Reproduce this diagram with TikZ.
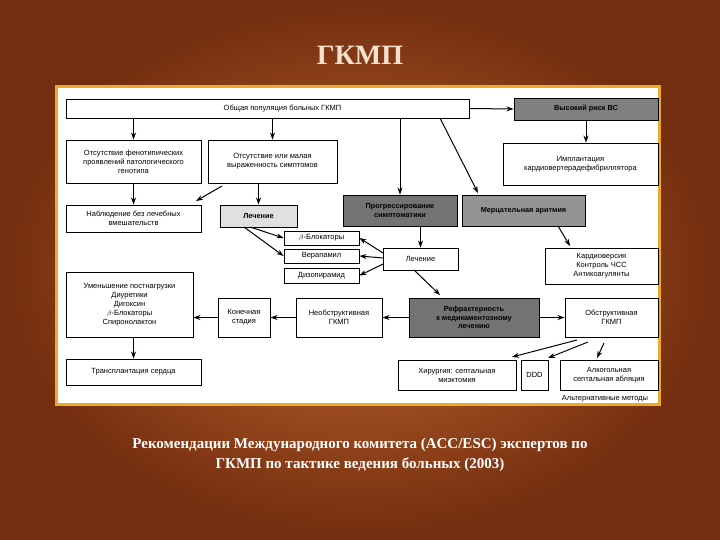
\documentclass[tikz,border=0pt]{standalone}
\usepackage{fontspec}
\setmainfont{Liberation Serif}
\newfontfamily\boxfont{Liberation Sans}
\usetikzlibrary{arrows.meta}
\definecolor{bgin}{RGB}{195,105,45}
\definecolor{bgout}{RGB}{115,45,15}
\definecolor{frame}{RGB}{235,170,40}
\definecolor{titlec}{RGB}{245,225,205}
\tikzset{
 box/.style={draw=black, line width=0.9pt, fill=white, align=center, inner sep=1pt,
   font=\boxfont\fontsize{7.5}{9}\selectfont},
 gbox/.style={box, fill=black!45, font=\boxfont\bfseries\fontsize{7.3}{8.8}\selectfont},
 arr/.style={-{Stealth[length=7pt,width=5pt]}, line width=1pt}
}
\newcommand{\bx}[7][box]{\node[#1, minimum width=#4-#2, minimum height=#5-#3] (#6) at ({(#2+#4)/2},{(#3+#5)/2}) {#7};}
\begin{document}
\begin{tikzpicture}[x=1pt,y=-1pt]
\useasboundingbox (0,0) rectangle (720,540);
\shade[inner color=bgin, outer color=bgout] (0,0) rectangle (720,540);
\node[font=\bfseries\fontsize{28}{30}\selectfont, text=titlec] (title) at (360,55) {ГКМП};
\draw[frame, line width=3pt, fill=white] (56.5,86.5) rectangle (659.5,404.5);
\bx{66}{99}{469}{118}{top}{\hspace*{4em}Общая популяция больных ГКМП}
\bx[gbox, fill=black!50]{514}{98}{658}{120}{risk}{Высокий риск ВС}
\bx{66}{140}{201}{183}{nofen}{Отсутствие фенотипических\\проявлений патологического\\генотипа}
\bx{208}{140}{337}{183}{nosym}{Отсутствие или малая\\выраженность симптомов}
\bx{503}{143}{658}{185}{impl}{Имплантация\\кардиовертерадефибриллятора}
\bx[gbox, fill=black!55]{343}{195}{457}{226}{progr}{Прогрессирование\\симптоматики}
\bx[gbox, fill=black!42]{462}{195}{585}{226}{merc}{Мерцательная аритмия}
\bx{66}{205}{201}{232}{nabl}{Наблюдение без лечебных\\вмешательств}
\bx[gbox, fill=black!12]{220}{205}{297}{227}{lech}{Лечение}
\bx{284}{231}{359}{245}{bb}{$\beta$-Блокаторы}
\bx{284}{249}{359}{263}{ver}{Верапамил}
\bx{284}{268}{359}{283}{diz}{Дизопирамид}
\bx{383}{248}{458}{270}{lech2}{Лечение}
\bx{545}{248}{658}{284}{kard}{Кардиоверсия\\Контроль ЧСС\\Антикоагулянты}
\bx{66}{272}{193}{337}{umen}{Уменьшение постнагрузки\\Диуретики\\Дигоксин\\$\beta$-Блокаторы\\Спиронолактон}
\bx{218}{298}{270}{337}{kon}{Конечная\\стадия}
\bx{296}{298}{382}{337}{neob}{Необструктивная\\ГКМП}
\bx[gbox, fill=black!55]{409}{298}{539}{337}{refr}{Рефрактерность\\к медикаментозному\\лечению}
\bx{565}{298}{658}{337}{obs}{Обструктивная\\ГКМП}
\bx{66}{359}{201}{385}{trans}{Трансплантация сердца}
\bx{398}{360}{516}{390}{hir}{Хирургия: септальная\\миэктомия}
\bx{521}{360}{548}{390}{ddd}{DDD}
\bx{560}{360}{658}{390}{alk}{Алкогольная\\септальная абляция}
\node[font=\boxfont\fontsize{7.5}{8}\selectfont, anchor=north] (alt) at (605,392) {Альтернативные методы};
% arrows
\draw[arr] (nofen.north |- top.south) -- (nofen.north);
\draw[arr] (nosym.north |- top.south) -- (nosym.north);
\draw[arr] (progr.north |- top.south) -- (progr.north);
\draw[arr] (440,118) -- (478,193);
\draw[arr] (top.east) -- (risk.west);
\draw[arr] (risk.south) -- (impl.north -| risk.south);
\draw[arr] (nofen.south) -- (nabl.north -| nofen.south);
\draw[arr] (222,186) -- (196,201);
\draw[arr] (nosym.south -| lech.north) -- (lech.north);
\draw[arr] (250,227) -- (bb.west);
\draw[arr] (244,227) -- (ver.west);
\draw[arr] (progr.south -| lech2.north) -- (lech2.north);
\draw[arr] (383,253) -- (bb.east);
\draw[arr] (383,258) -- (ver.east);
\draw[arr] (383,264) -- (diz.east);
\draw[arr] (414,270) -- (440,295);
\draw[arr] (558,226) -- (570,246);
\draw[arr] (refr.west) -- (neob.east);
\draw[arr] (refr.east) -- (obs.west);
\draw[arr] (neob.west) -- (kon.east);
\draw[arr] (kon.west) -- (umen.east |- kon.west);
\draw[arr] (umen.south -| nofen.south) -- (trans.north -| nofen.south);
\draw[arr] (577,340) -- (512,357);
\draw[arr] (588,342) -- (548,358);
\draw[arr] (604,343) -- (597,358);
% caption
\node[font=\bfseries\fontsize{15}{20}\selectfont, text=white, align=center] (cap) at (360,455)
 {Рекомендации Международного комитета (ACC/ESC) экспертов по\\ГКМП по тактике ведения больных (2003)};
\end{tikzpicture}
\end{document}
